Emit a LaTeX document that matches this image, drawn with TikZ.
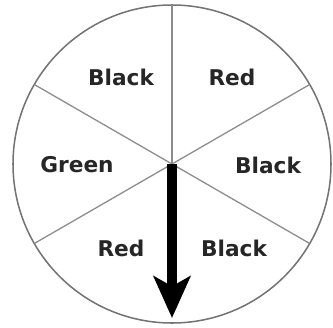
\documentclass[tikz,border=0pt]{standalone}
\usepackage{fontspec}
\setsansfont{DejaVu Sans}
\usetikzlibrary{arrows.meta}
\tikzset{
  rim/.style={draw=black!55, line width=1.3pt},
  spoke/.style={draw=black!45, line width=1.1pt},
  sectorlabel/.style={font=\sffamily\bfseries\fontsize{18.5}{21}\selectfont, text=black!85},
  pointer/.style={line width=8.5pt, draw=black, -{Stealth[length=1.25cm, width=1.1cm, inset=0.3cm]}},
}
\begin{document}
\begin{tikzpicture}[x=0.03cm, y=-0.03cm]
\useasboundingbox (0,0) rectangle (333,327);
\coordinate (hub) at (172,164);
\draw[rim] (hub) circle (159);
\foreach \ang in {30,150,210,270,330} {
  \draw[spoke] (hub) -- ++(\ang:159);
}
\node[sectorlabel] (blackA) at (121,77) {Black};
\node[sectorlabel] (redA) at (232,77) {Red};
\node[sectorlabel] (green) at (77,165) {Green};
\node[sectorlabel] (blackB) at (268,165) {Black};
\node[sectorlabel] (redB) at (121,248) {Red};
\node[sectorlabel] (blackC) at (234,248) {Black};
\coordinate (tip) at (172,318);
\draw[pointer] (hub) -- (tip);
\end{tikzpicture}
\end{document}
